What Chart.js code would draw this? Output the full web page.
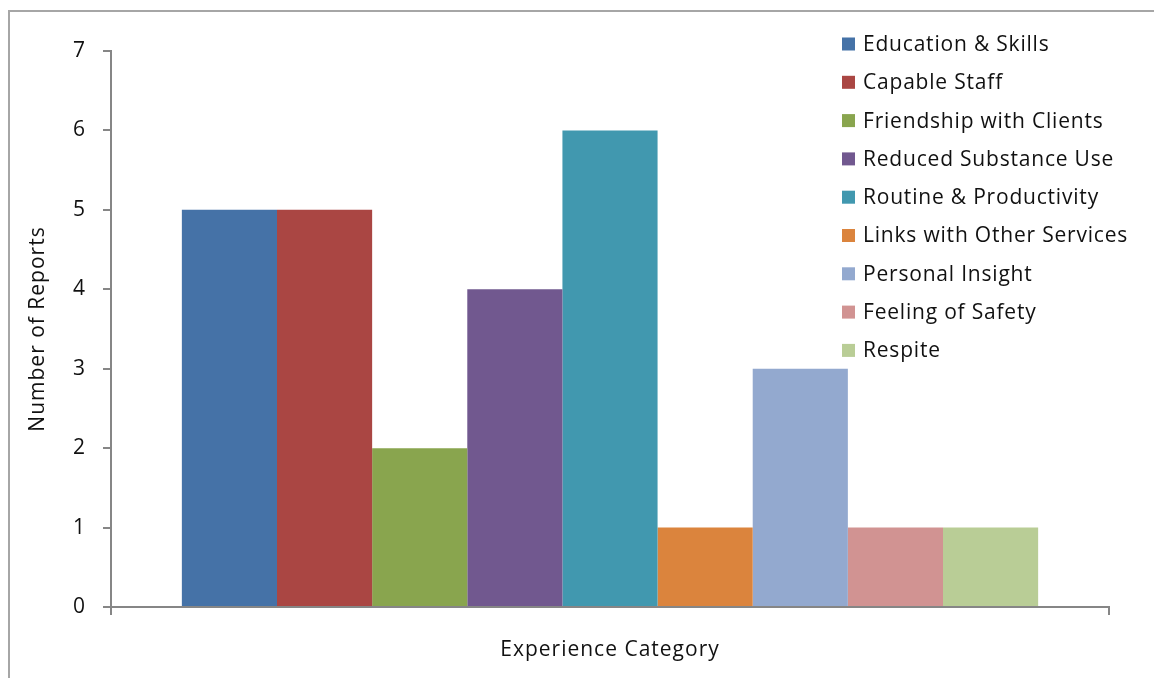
<!DOCTYPE html>
<html lang="en">

<head>
    <meta charset="UTF-8">
    <title>Experience Category</title>
    <style>
        html, body { margin: 0; padding: 0; background: #fff; overflow: hidden; }
        .wrap { position: relative; width: 1154px; height: 678px; }
        .frame { position: absolute; left: 8px; top: 10px; width: 1300px; height: 800px; border: 2px solid #a6a6a6; }
        .wrap canvas { position: absolute; left: 0; top: 0; }
    </style>
</head>

<body>
    <div class="wrap">
        <div class="frame"></div>
        <canvas id="grafico" width="1154" height="678"></canvas>
    </div>

    <script src="https://cdn.jsdelivr.net/npm/chart.js"></script>
    <script>
        // dados do grafico
        const categorias = [''];
        const series = [
            'Education & Skills',
            'Capable Staff',
            'Friendship with Clients',
            'Reduced Substance Use',
            'Routine & Productivity',
            'Links with Other Services',
            'Personal Insight',
            'Feeling of Safety',
            'Respite'
        ];
        const valores = [5, 5, 2, 4, 6, 1, 3, 1, 1];
        const cores = ['#4572A7', '#AA4643', '#89A54E', '#71588F', '#4198AF', '#DB843D', '#93A9CF', '#D19392', '#B9CD96'];
        const ticksY = [0, 1, 2, 3, 4, 5, 6, 7];

        const fonte = 'Open Sans, sans-serif';

        // o texto do original e mais espaçado, entao abre um pouco as letras
        const espacamentoPlugin = {
            id: 'espacamento',
            beforeDraw(chart) {
                chart.ctx.letterSpacing = '1px';
            }
        };

        // legenda desenhada por cima da area do grafico (igual ao excel)
        const legendaPlugin = {
            id: 'legendaExcel',
            afterDraw(chart) {
                const ctx = chart.ctx;
                ctx.save();
                ctx.font = '21px ' + fonte;
                ctx.letterSpacing = '0.8px';
                ctx.textBaseline = 'middle';
                chart.data.datasets.forEach((ds, i) => {
                    const y = 44 + i * 38.3;
                    ctx.fillStyle = ds.backgroundColor;
                    ctx.fillRect(842, y - 6.5, 13, 13);
                    ctx.fillStyle = '#111';
                    ctx.fillText(ds.label, 863, y + 1);
                });
                ctx.restore();
            }
        };

        const datasets = series.map((nome, i) => ({
            label: nome,
            data: [valores[i]],
            backgroundColor: cores[i],
            borderWidth: 0,
            categoryPercentage: 0.858,
            barPercentage: 1
        }));

        new Chart(document.getElementById('grafico'), {
            type: 'bar',
            data: { labels: categorias, datasets: datasets },
            options: {
                responsive: false,
                animation: false,
                devicePixelRatio: 1,
                layout: { padding: { left: 0, top: 51, right: 45, bottom: 0 } },
                scales: {
                    x: {
                        grid: { display: true, drawOnChartArea: false, tickLength: 8, color: '#868686', lineWidth: 2 },
                        border: { display: true, color: '#868686', width: 2 },
                        ticks: { display: false },
                        title: { display: true, text: 'Experience Category', color: '#111', font: { family: fonte, size: 21 }, padding: { top: 0, bottom: 15 } },
                        afterFit(scale) { scale.height = 71; }
                    },
                    y: {
                        min: 0,
                        max: 7,
                        afterBuildTicks(scale) { scale.ticks = ticksY.map(v => ({ value: v })); },
                        grid: { display: true, drawOnChartArea: false, tickLength: 8, color: '#868686', lineWidth: 2 },
                        border: { display: true, color: '#868686', width: 2 },
                        ticks: { color: '#111', padding: 17, font: { family: fonte, size: 21 } },
                        title: { display: true, text: 'Number of Reports', color: '#111', font: { family: fonte, size: 21 }, padding: { top: 25, bottom: 0 } },
                        afterFit(scale) { scale.width = 111; }
                    }
                },
                plugins: {
                    legend: { display: false },
                    tooltip: { enabled: false }
                }
            },
            plugins: [espacamentoPlugin, legendaPlugin]
        });
    </script>
</body>

</html>
